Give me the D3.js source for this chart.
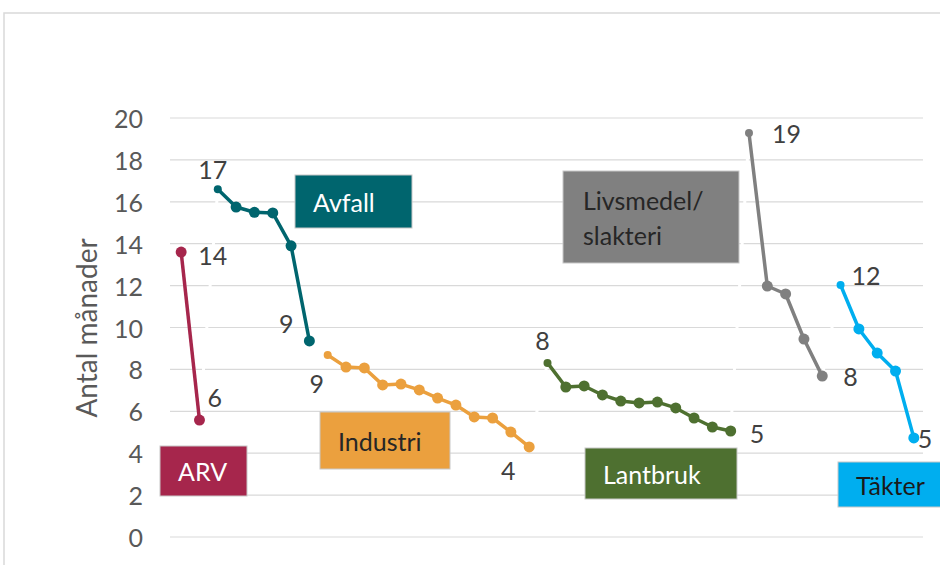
<!DOCTYPE html>
<html><head><meta charset="utf-8">
<script src="https://cdn.jsdelivr.net/npm/d3@7"></script>
<style>body{margin:0;background:#fff}svg{display:block}text{font-family:Lato,"Open Sans",sans-serif}</style>
</head><body><svg id="c" width="940" height="565"></svg>
<script>
// ---- data ----
const seriesNames = ["ARV","Avfall","Industri","Lantbruk","Livsmedel/slakteri","Täkter"];
const arv = [13.6, 5.58];
const avfall = [16.6, 15.75, 15.5, 15.47, 13.9, 9.36];
const industri = [8.69, 8.11, 8.07, 7.26, 7.30, 7.02, 6.63, 6.30, 5.73, 5.68, 5.01, 4.30];
const lantbruk = [8.31, 7.16, 7.21, 6.78, 6.49, 6.40, 6.44, 6.16, 5.68, 5.25, 5.06];
const livsmedel = [19.28, 11.98, 11.6, 9.45, 7.68];
const takter = [12.03, 9.93, 8.78, 7.92, 4.73];
const yTicks = [0,2,4,6,8,10,12,14,16,18,20];
const yTitle = "Antal månader";

// ---- styling / placement config ----
const cfg = [
  {vals: arv, color:"#A6264C", text:"#fff", box:[160,446,247,496], lines:["ARV"], first:[17,3,"start"], last:[8,-23,"start"]},
  {vals: avfall, color:"#00656E", text:"#fff", box:[295,175,412,228], lines:["Avfall"], first:[-5,-20,"middle"], last:[-23,-18,"middle"]},
  {vals: industri, color:"#EBA03E", text:"#262626", box:[320,412,450,469], lines:["Industri"], first:[-11,28,"middle"], last:[-21,23,"middle"]},
  {vals: lantbruk, color:"#4E7030", text:"#fff", box:[585,448,737,499], lines:["Lantbruk"], first:[-5,-23,"middle"], last:[19,2,"start"]},
  {vals: livsmedel, color:"#808080", text:"#262626", box:[563,171,739,263], lines:["Livsmedel/","slakteri"], first:[23,0,"start"], last:[21,0,"start"]},
  {vals: takter, color:"#00AEEF", text:"#1a1a1a", box:[838,462,945,507], lines:["Täkter"], first:[11,-10,"start"], last:[4,0,"start"]}
];
const FS = 25;

const svg = d3.select("#c");
// outer border
svg.append("path").attr("d","M4,565V13H940").attr("fill","none").attr("stroke","#d9d9d9").attr("stroke-width",1.5);

// build points
const all = [];
cfg.forEach((s,si)=>{ s.vals.forEach((v,i)=>all.push({si, i, v, n:s.vals.length})); });
all.forEach((d,k)=>d.k=k);

const x = d3.scalePoint().domain(all.map(d=>d.k)).range([172,923]).padding(0.5);
const y = d3.scaleLinear().domain([0,20]).range([537,118]);

// gridlines
svg.append("g").selectAll("line").data(yTicks).join("line")
  .attr("x1",170).attr("x2",923).attr("y1",d=>y(d)).attr("y2",d=>y(d))
  .attr("stroke","#d9d9d9").attr("stroke-width",1.2);
// y axis labels
svg.append("g").selectAll("text").data(yTicks).join("text")
  .attr("x",143).attr("y",d=>y(d)).attr("text-anchor","end").attr("dominant-baseline","central")
  .attr("font-size",FS).attr("fill","#595959").text(d=>d);
svg.append("text").attr("transform","translate(86,328) rotate(-90)").attr("text-anchor","middle")
  .attr("dominant-baseline","central").attr("font-size",28).attr("fill","#595959").text(yTitle);

const line = d3.line().x(d=>x(d.k)).y(d=>y(d.v));
// white connector through all points (creates gaps in gridlines)
svg.append("path").attr("d",line(all)).attr("fill","none").attr("stroke","#fff").attr("stroke-width",3);

// boxes
cfg.forEach((s,si)=>{
  const [x0,y0,x1,y1]=s.box;
  svg.append("rect").attr("x",x0).attr("y",y0).attr("width",x1-x0).attr("height",y1-y0)
    .attr("fill",s.color).attr("stroke","#c8c8c8").attr("stroke-width",1);
  const n=s.lines.length;
  s.lines.forEach((t,li)=>{
    svg.append("text").attr("x", x0 + (n>1 ? 20 : 18)).attr("y",(y0+y1)/2 + (li-(n-1)/2)*35)
      .attr("text-anchor","start").attr("dominant-baseline","central")
      .attr("font-size",FS).attr("fill",s.text).text(t);
  });
});

// series
cfg.forEach((s,si)=>{
  const pts = all.filter(d=>d.si===si);
  svg.append("path").attr("d",line(pts)).attr("fill","none").attr("stroke",s.color)
    .attr("stroke-width",3.5).attr("stroke-linejoin","round");
  svg.append("g").selectAll("circle").data(pts).join("circle")
    .attr("cx",d=>x(d.k)).attr("cy",d=>y(d.v)).attr("r",d=>(d.i===0 && si>0)?4:5.5).attr("fill",s.color);
  const fmt = d3.format(".0f");
  [[pts[0],s.first],[pts[pts.length-1],s.last]].forEach(([p,o])=>{
    svg.append("text").attr("x",x(p.k)+o[0]).attr("y",y(p.v)+o[1]).attr("text-anchor",o[2])
      .attr("dominant-baseline","central").attr("font-size",FS).attr("fill","#404040").text(fmt(p.v));
  });
});
</script></body></html>
